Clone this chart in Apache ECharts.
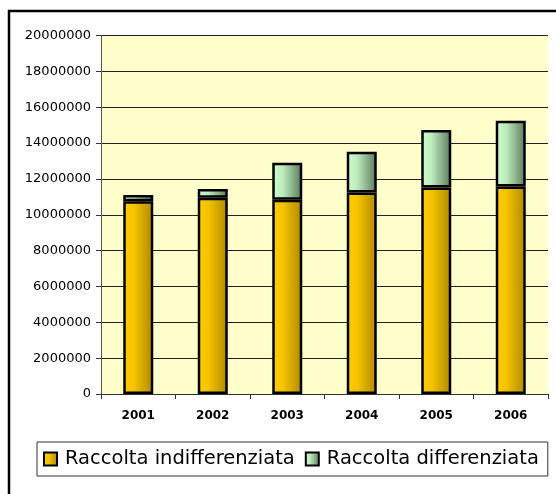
<!DOCTYPE html>
<html>
<head>
<meta charset="utf-8">
<style>
  html, body { margin: 0; padding: 0; background: #ffffff; }
  #chart { width: 556px; height: 494px; }
</style>
<script src="https://cdn.jsdelivr.net/npm/echarts@6/dist/echarts.min.js"></script>
</head>
<body>
<div id="chart"></div>
<script>
// Anni
const years = ['2001', '2002', '2003', '2004', '2005', '2006'];
// Raccolta indifferenziata
const indifferenziata = [10750000, 10950000, 10830000, 11240000, 11520000, 11580000];
// Raccolta differenziata
const differenziata = [350000, 490000, 2070000, 2280000, 3210000, 3660000];
// Scala dell'asse verticale
const yMin = 0;
const yMax = 20000000;
const yStep = 2000000;

const fontFamily = '"DejaVu Sans", "Liberation Sans", Arial, sans-serif';

function hGradient(stops) {
  return new echarts.graphic.LinearGradient(0, 0, 1, 0, stops.map(function (s) {
    return { offset: s[0], color: s[1] };
  }));
}

const yellowFill = hGradient([[0, '#FFCC00'], [0.35, '#F5C400'], [1, '#B08800']]);
const greenFill = hGradient([[0, '#CCFFCC'], [0.35, '#BDEBBD'], [1, '#5A785A']]);

const chart = echarts.init(document.getElementById('chart'), null, { renderer: 'canvas' });

chart.setOption({
  animation: false,
  backgroundColor: '#ffffff',
  textStyle: { fontFamily: fontFamily },
  // cornice esterna: solo i lati superiore e sinistro rientrano nella pagina
  graphic: [
    {
      type: 'line',
      silent: true,
      z: 100,
      shape: { x1: 8, y1: 11, x2: 556, y2: 11 },
      style: { stroke: '#000000', lineWidth: 2.5 }
    },
    {
      type: 'line',
      silent: true,
      z: 100,
      shape: { x1: 9, y1: 10, x2: 9, y2: 494 },
      style: { stroke: '#000000', lineWidth: 2.5 }
    }
  ],
  grid: {
    left: 101,
    right: 8,
    top: 35.5,
    bottom: 100,
    show: true,
    backgroundColor: '#FFFFCC',
    borderWidth: 0
  },
  legend: {
    left: 37,
    top: 442,
    orient: 'horizontal',
    padding: [6, 9, 6, 6],
    itemGap: 10,
    itemWidth: 13,
    itemHeight: 13,
    borderColor: '#333333',
    borderWidth: 1,
    icon: 'rect',
    textStyle: {
      fontFamily: fontFamily,
      fontSize: 19.5,
      color: '#000000',
      lineHeight: 22,
      padding: [0, 0, 0, 3]
    },
    data: ['Raccolta indifferenziata', 'Raccolta differenziata']
  },
  xAxis: {
    type: 'category',
    data: years,
    boundaryGap: true,
    axisLine: { show: true, lineStyle: { color: '#333333', width: 1 } },
    axisTick: { show: true, length: 5, lineStyle: { color: '#333333' } },
    axisLabel: {
      margin: 16,
      fontFamily: fontFamily,
      fontSize: 12,
      fontWeight: 'bold',
      color: '#000000'
    },
    splitLine: { show: false }
  },
  yAxis: {
    type: 'value',
    min: yMin,
    max: yMax,
    interval: yStep,
    axisLine: { show: true, lineStyle: { color: '#555555', width: 1 } },
    axisTick: { show: true, length: 5, lineStyle: { color: '#333333' } },
    axisLabel: {
      margin: 10,
      fontFamily: fontFamily,
      fontSize: 13,
      color: '#000000',
      formatter: function (v) { return String(v); }
    },
    splitLine: { show: true, lineStyle: { color: '#222222', width: 1 } }
  },
  series: [
    {
      name: 'Raccolta indifferenziata',
      type: 'bar',
      stack: 'totale',
      barWidth: 30,
      data: indifferenziata,
      itemStyle: { color: yellowFill, borderColor: '#000000', borderWidth: 2.5 }
    },
    {
      name: 'Raccolta differenziata',
      type: 'bar',
      stack: 'totale',
      barWidth: 30,
      data: differenziata,
      itemStyle: { color: greenFill, borderColor: '#000000', borderWidth: 2.5 }
    }
  ]
});
</script>
</body>
</html>
